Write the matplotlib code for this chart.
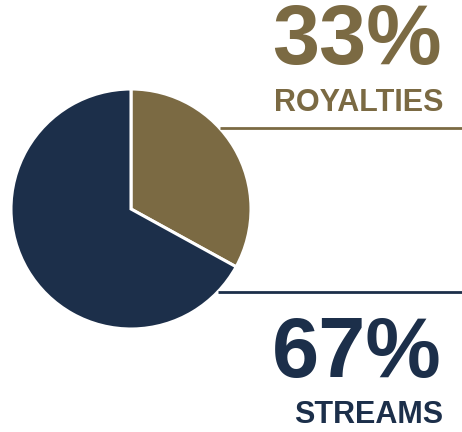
import matplotlib
matplotlib.use("Agg")
import matplotlib.pyplot as plt

# Data
categories = ["ROYALTIES", "STREAMS"]
shares = [33, 67]
colors = ["#7b6a43", "#1c2f4a"]

W, H = 462, 432
fig = plt.figure(figsize=(W / 100, H / 100), dpi=100)
ax = fig.add_axes([0, 0, 1, 1])

# pie (pixel coords, y measured from bottom)
ax.pie(shares, colors=colors, startangle=90, counterclock=False,
       center=(131, H - 209), radius=120, frame=True,
       wedgeprops=dict(edgecolor="white", linewidth=2.2))
ax.set_xlim(0, W)
ax.set_ylim(0, H)
ax.set_aspect("equal")
ax.axis("off")

# leader lines
ax.plot([220, W], [H - 128, H - 128], color=colors[0], lw=2, solid_capstyle="butt")
ax.plot([218, W], [H - 292, H - 292], color=colors[1], lw=2, solid_capstyle="butt")

font = "Liberation Sans"
# labels
ax.text(442, H - 42, f"{shares[0]}%", color=colors[0], fontsize=61, fontweight="bold",
        family=font, ha="right", va="center")
ax.text(443, H - 103, categories[0], color=colors[0], fontsize=22, fontweight="bold",
        family=font, ha="right", va="center")
ax.text(442, H - 355, f"{shares[1]}%", color=colors[1], fontsize=61, fontweight="bold",
        family=font, ha="right", va="center")
ax.text(443, H - 415, categories[1], color=colors[1], fontsize=22, fontweight="bold",
        family=font, ha="right", va="center")

fig.savefig("out.png", dpi=100, facecolor="white")
